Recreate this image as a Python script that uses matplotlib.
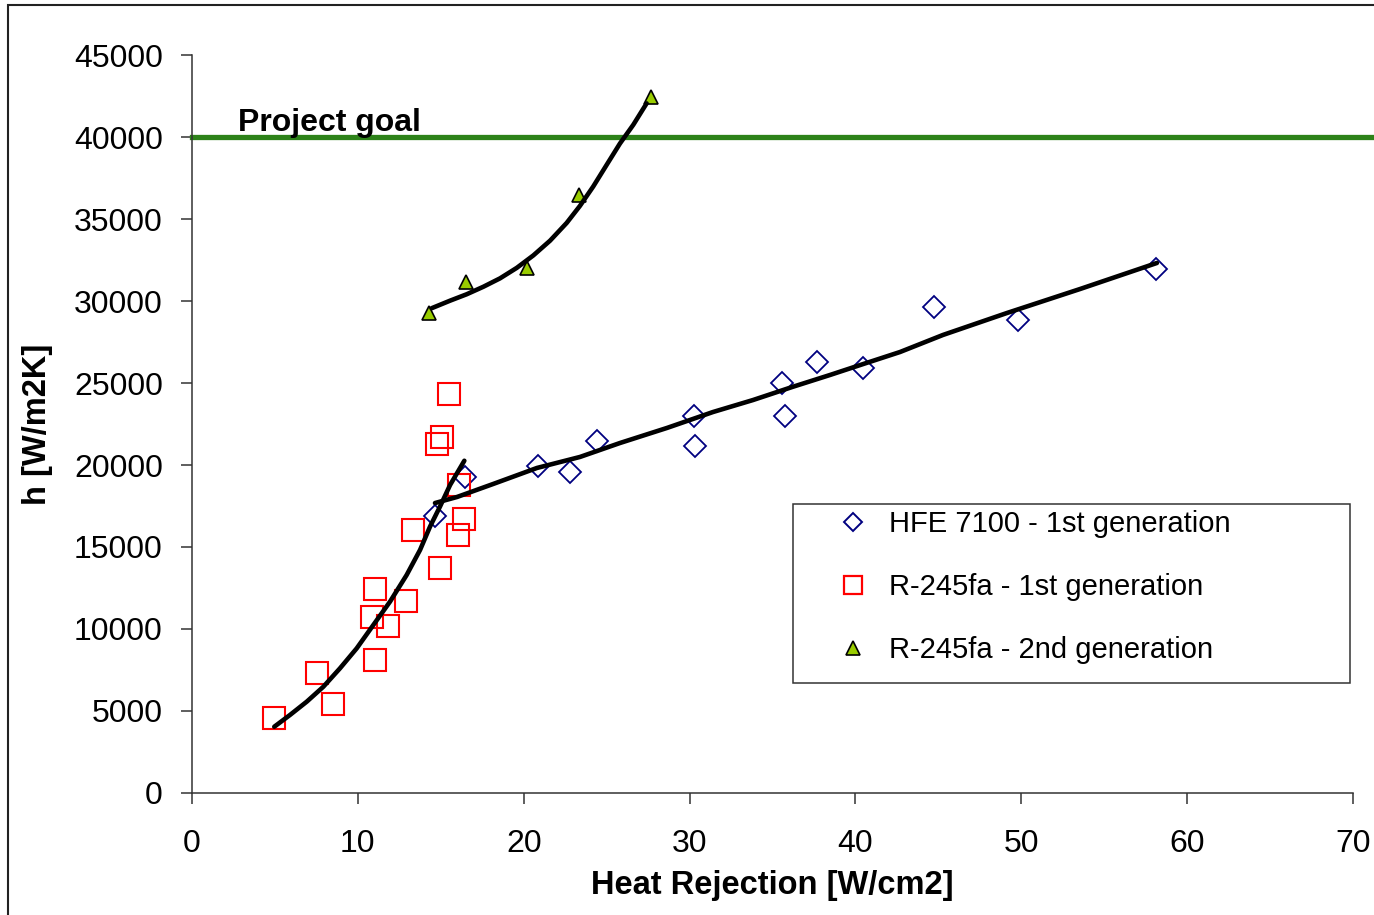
import matplotlib
matplotlib.use("Agg")
import matplotlib.pyplot as plt
from matplotlib.lines import Line2D
from matplotlib.patches import Rectangle

plt.rcParams['font.family'] = ['Liberation Sans', 'DejaVu Sans']

# HFE 7100 - 1st generation
hfe_x = [14.65, 16.46, 20.86, 22.79, 24.42, 30.27, 30.33, 35.57, 35.75, 37.68, 40.46, 44.74, 49.8, 58.12]
hfe_y = [16890, 19270, 19940, 19570, 21460, 22990, 21160, 25000, 22990, 26280, 25910, 29630, 28840, 31950]

# R-245fa - 1st generation
r1_x = [4.94, 7.54, 8.5, 11.03, 11.03, 10.85, 11.82, 12.9, 13.32, 14.95, 15.5, 15.07, 14.77, 16.1, 16.4, 16.04]
r1_y = [4570, 7320, 5430, 8110, 12440, 10730, 10180, 11710, 16040, 13720, 24330, 21710, 21280, 18780, 16710, 15730]

# R-245fa - 2nd generation
r2_x = [14.29, 16.52, 20.2, 23.33, 27.67]
r2_y = [29270, 31160, 32010, 36460, 42440]

# trend lines
hfe_fit_x = [14.65, 15.98, 18.15, 20.8, 23.39, 25.8, 28.64, 31.41, 33.82, 36.2, 38.47, 40.6, 42.69, 45.28, 49.14, 53.54, 58.18]
hfe_fit_y = [17680, 18050, 18840, 19820, 20490, 21340, 22260, 23230, 23960, 24760, 25490, 26200, 26890, 27930, 29270, 30730, 32320]
r1_fit_x = [4.96, 5.91, 6.92, 7.92, 8.92, 9.93, 10.93, 11.94, 12.94, 13.75, 14.35, 14.95, 15.56, 16.42]
r1_fit_y = [4040, 4760, 5570, 6480, 7600, 8820, 10240, 11670, 13290, 14820, 16240, 17460, 18780, 20260]
r2_fit_x = [14.45, 15.56, 16.56, 17.57, 18.57, 19.58, 20.58, 21.59, 22.59, 23.39, 24.19, 25.0, 25.8, 26.61, 27.41]
r2_fit_y = [29560, 30020, 30410, 30870, 31380, 32020, 32780, 33680, 34760, 35800, 36980, 38300, 39600, 40750, 42050]

goal = 40000

fig = plt.figure(figsize=(13.74, 9.15), dpi=100)
ax = fig.add_axes([192/1374, 1-793/915, (1353-192)/1374, (793-55)/915])

fig.patches.append(Rectangle((8/1374, -0.2), 1.2, 1.2 - 5/915, transform=fig.transFigure,
                             fill=False, edgecolor='#222222', linewidth=1.5, zorder=0))

ax.axhline(goal, xmin=0, xmax=1.02, color='#2d8219', linewidth=3.8, clip_on=False, zorder=2)
ax.text(2.77, 40370, 'Project goal', fontsize=23, fontweight='bold', va='baseline', ha='left')

ax.plot(hfe_x, hfe_y, linestyle='none', marker='D', markersize=11.5, markerfacecolor='none',
        markeredgecolor='#000080', markeredgewidth=1.3, zorder=3)
ax.plot(r1_x, r1_y, linestyle='none', marker='s', markersize=16.5, markerfacecolor='none',
        markeredgecolor='#ff0000', markeredgewidth=1.5, zorder=3)
ax.plot(r2_x, r2_y, linestyle='none', marker='^', markersize=10.5, markerfacecolor='#99cc00',
        markeredgecolor='black', markeredgewidth=1.2, zorder=4)

for fx, fy in [(hfe_fit_x, hfe_fit_y), (r1_fit_x, r1_fit_y), (r2_fit_x, r2_fit_y)]:
    ax.plot(fx, fy, color='black', linewidth=3.3, solid_capstyle='round',
            solid_joinstyle='round', zorder=5)

ax.set_xlim(0, 70)
ax.set_ylim(0, 45000)
ax.set_xticks(range(0, 71, 10))
ax.set_yticks(range(0, 45001, 5000))
for s in ['top', 'right']:
    ax.spines[s].set_visible(False)
for s in ['left', 'bottom']:
    ax.spines[s].set_color('#333333')
    ax.spines[s].set_linewidth(1.1)
ax.tick_params(axis='y', direction='out', length=8, width=1.1, color='#333333', labelsize=23, pad=13)
ax.tick_params(axis='x', direction='out', length=8, width=1.1, color='#333333', labelsize=23, pad=18)

ax.set_xlabel('Heat Rejection [W/cm2]', fontsize=23.5, fontweight='bold')
ax.set_ylabel('h [W/m2K]', fontsize=23.5, fontweight='bold')
ax.xaxis.set_label_coords(0.5, -0.105)
ax.yaxis.set_label_coords(-0.12, 0.5)

handles = [
    Line2D([], [], linestyle='none', marker='D', markersize=9.5, markerfacecolor='none',
           markeredgecolor='#000080', markeredgewidth=1.4),
    Line2D([], [], linestyle='none', marker='s', markersize=12.5, markerfacecolor='none',
           markeredgecolor='#ff0000', markeredgewidth=1.6),
    Line2D([], [], linestyle='none', marker='^', markersize=9.5, markerfacecolor='#99cc00',
           markeredgecolor='black', markeredgewidth=1.2),
]
labels = ['HFE 7100 - 1st generation', 'R-245fa - 1st generation', 'R-245fa - 2nd generation']

box_l = (793-192)/1161
box_b = (793-683)/738
ax.add_patch(Rectangle((box_l, box_b), (1350-793)/1161, (683-504)/738, transform=ax.transAxes,
                       fill=False, edgecolor='#333333', linewidth=1.1, zorder=6))
ax.legend(handles, labels, loc='upper left', bbox_to_anchor=((828-192)/1161, (793-510)/738),
          frameon=False, fontsize=21, borderpad=0, borderaxespad=0, handlelength=1.7,
          handletextpad=0.4, labelspacing=1.2)

fig.savefig('out.png', dpi=100)
